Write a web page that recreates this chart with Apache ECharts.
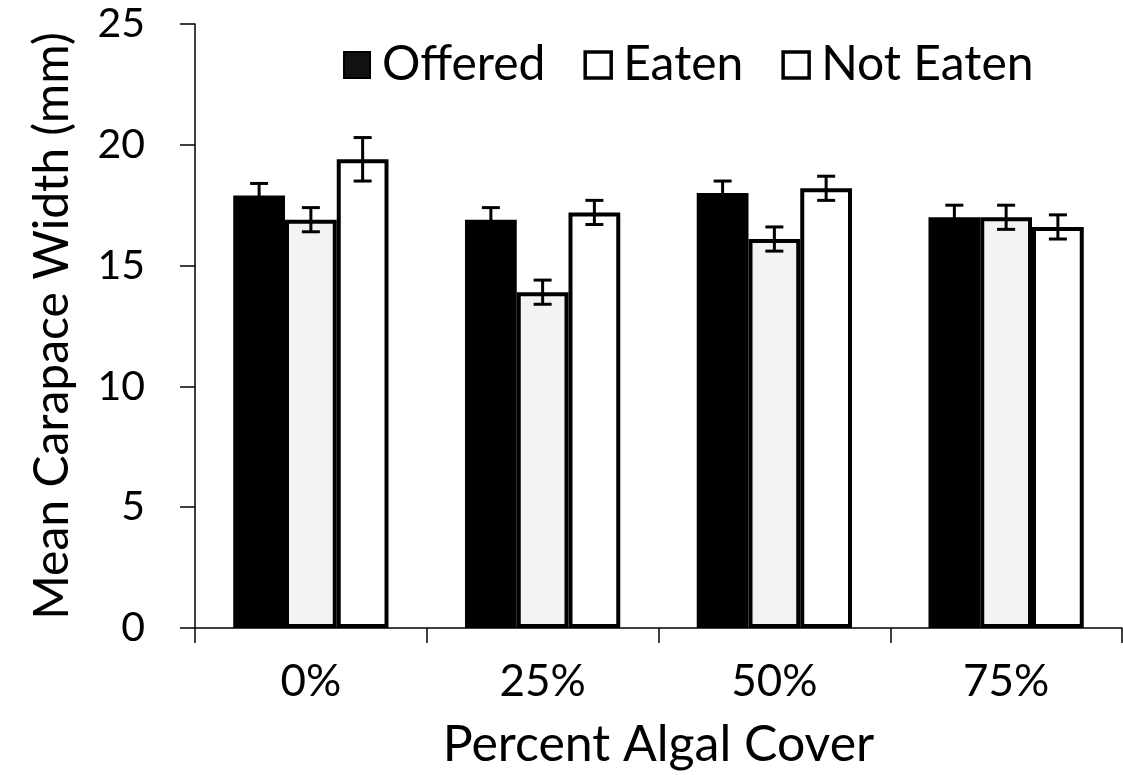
<!DOCTYPE html>
<html><head><meta charset="utf-8">
<script src="https://cdn.jsdelivr.net/npm/echarts@6/dist/echarts.min.js"></script>
<style>html,body{margin:0;padding:0;background:#fff}#c{width:1123px;height:775px}</style>
</head><body><div id="c"></div>
<script>
const categories = ['0%', '25%', '50%', '75%'];
const seriesNames = ['Offered', 'Eaten', 'Not Eaten'];
const offered = [17.9, 16.9, 18.0, 17.0];
const eaten = [16.9, 13.9, 16.1, 17.0];
const notEaten = [19.4, 17.2, 18.2, 16.6];
const offeredErr = [0.5, 0.5, 0.5, 0.5];
const eatenErr = [0.5, 0.5, 0.5, 0.5];
const notEatenErr = [0.9, 0.5, 0.5, 0.5];
const yTicks = [0, 5, 10, 15, 20, 25];

const values = [offered, eaten, notEaten];
const errs = [offeredErr, eatenErr, notEatenErr];
const fills = ['#000000', '#f3f3f3', '#ffffff'];
const FONT = 'Lato';
const GAP = 0.33;

const chart = echarts.init(document.getElementById('c'));
const series = [];
values.forEach((v, i) => {
  series.push({
    name: seriesNames[i], type: 'bar', data: v,
    barGap: '0%', barCategoryGap: '33%',
    itemStyle: { color: fills[i], borderColor: '#000', borderWidth: 4 },
    z: 2
  });
});
values.forEach((v, i) => {
  series.push({
    type: 'custom', silent: true, z: 5,
    data: v.map((val, k) => [k, val - errs[i][k], val + errs[i][k]]),
    renderItem: function (params, api) {
      const band = api.size([1, 0])[0];
      const bw = band * (1 - GAP) / 3;
      const off = (i - 1) * bw;
      const lo = api.coord([api.value(0), api.value(1)]);
      const hi = api.coord([api.value(0), api.value(2)]);
      const x = lo[0] + off;
      const cap = 9;
      const st = { stroke: '#000', lineWidth: 3 };
      return { type: 'group', children: [
        { type: 'line', shape: { x1: x, y1: lo[1], x2: x, y2: hi[1] }, style: st },
        { type: 'line', shape: { x1: x - cap, y1: lo[1], x2: x + cap, y2: lo[1] }, style: st },
        { type: 'line', shape: { x1: x - cap, y1: hi[1], x2: x + cap, y2: hi[1] }, style: st }
      ]};
    }
  });
});

chart.setOption({
  animation: false,
  backgroundColor: '#fff',
  grid: { left: 195, right: 1, top: 24, bottom: 143 },
  legend: {
    top: 36, left: 338, itemWidth: 26, itemHeight: 26, itemGap: 38,
    icon: 'rect',
    textStyle: { fontFamily: FONT, fontSize: 48, color: '#000', padding: [0, 0, 0, 7] },
    data: [
      { name: 'Offered', itemStyle: { color: '#111', borderColor: '#000', borderWidth: 2 } },
      { name: 'Eaten', itemStyle: { color: '#fff', borderColor: '#000', borderWidth: 3.5 } },
      { name: 'Not Eaten', itemStyle: { color: '#fff', borderColor: '#000', borderWidth: 3.5 } }
    ]
  },
  xAxis: {
    type: 'category', data: categories,
    name: 'Percent Algal Cover', nameLocation: 'middle', nameGap: 92,
    nameTextStyle: { fontFamily: FONT, fontSize: 50, color: '#000' },
    axisLine: { lineStyle: { color: '#000', width: 1.5 } },
    axisTick: { show: true, length: 15, lineStyle: { color: '#000', width: 1.5 } },
    axisLabel: { fontFamily: FONT, fontSize: 44, color: '#000', margin: 32 }
  },
  yAxis: {
    type: 'value', min: 0, max: 25, interval: 5,
    name: 'Mean Carapace Width (mm)', nameLocation: 'middle', nameGap: 118,
    nameTextStyle: { fontFamily: FONT, fontSize: 48, color: '#000' },
    axisLine: { show: true, lineStyle: { color: '#000', width: 1.5 } },
    axisTick: { show: true, length: 15, lineStyle: { color: '#000', width: 1.5 } },
    axisLabel: { fontFamily: FONT, fontSize: 41, color: '#000', margin: 50,
      formatter: v => yTicks.includes(v) ? String(v) : '' },
    splitLine: { show: false }
  },
  series: series
});
</script></body></html>
